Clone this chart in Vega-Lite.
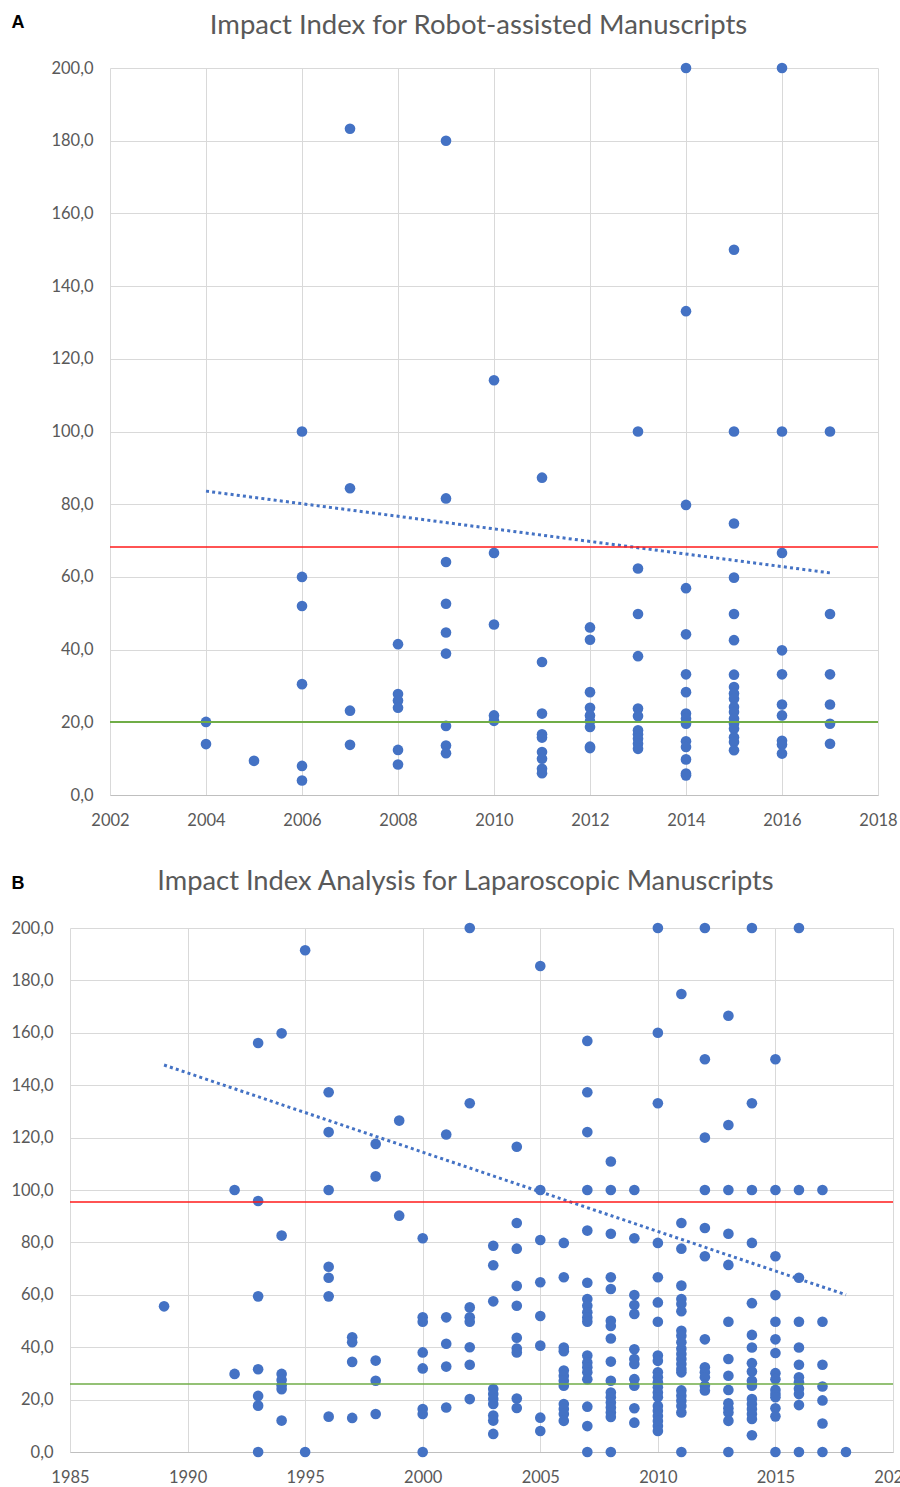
{
  "$schema": "https://vega.github.io/schema/vega-lite/v6.json",
  "background": "white",
  "padding": {"left": 10, "top": 11, "right": 0, "bottom": 0},
  "bounds": "full",
  "spacing": 38,
  "config": {
    "view": {"stroke": null},
    "font": "Lato",
    "axis": {"gridColor": "#d9d9d9", "gridWidth": 1, "ticks": false, "domain": false, "labelColor": "#595959", "labelFont": "Lato", "labelFontSize": 16.5, "titleFont": "Lato"}
  },
  "datasets": {
    "robot": [
      {"year": 2004, "v": 20.1}, {"year": 2004, "v": 14.0},
      {"year": 2005, "v": 9.4},
      {"year": 2006, "v": 100}, {"year": 2006, "v": 60}, {"year": 2006, "v": 52}, {"year": 2006, "v": 30.5}, {"year": 2006, "v": 8}, {"year": 2006, "v": 4},
      {"year": 2007, "v": 183.3}, {"year": 2007, "v": 84.4}, {"year": 2007, "v": 23.2}, {"year": 2007, "v": 13.8},
      {"year": 2008, "v": 41.5}, {"year": 2008, "v": 27.8}, {"year": 2008, "v": 26.0}, {"year": 2008, "v": 24.0}, {"year": 2008, "v": 12.4}, {"year": 2008, "v": 8.4},
      {"year": 2009, "v": 180}, {"year": 2009, "v": 81.6}, {"year": 2009, "v": 64.1}, {"year": 2009, "v": 52.6}, {"year": 2009, "v": 44.7}, {"year": 2009, "v": 38.9}, {"year": 2009, "v": 19.0}, {"year": 2009, "v": 13.6}, {"year": 2009, "v": 11.5},
      {"year": 2010, "v": 114.1}, {"year": 2010, "v": 66.6}, {"year": 2010, "v": 46.9}, {"year": 2010, "v": 21.9}, {"year": 2010, "v": 20.4},
      {"year": 2011, "v": 87.3}, {"year": 2011, "v": 36.6}, {"year": 2011, "v": 22.4}, {"year": 2011, "v": 16.7}, {"year": 2011, "v": 15.8}, {"year": 2011, "v": 11.8}, {"year": 2011, "v": 10.0}, {"year": 2011, "v": 7.2}, {"year": 2011, "v": 6.0},
      {"year": 2012, "v": 46.1}, {"year": 2012, "v": 42.7}, {"year": 2012, "v": 28.3}, {"year": 2012, "v": 24.0}, {"year": 2012, "v": 21.9}, {"year": 2012, "v": 20.3}, {"year": 2012, "v": 18.7}, {"year": 2012, "v": 13.3}, {"year": 2012, "v": 12.9},
      {"year": 2013, "v": 100}, {"year": 2013, "v": 62.3}, {"year": 2013, "v": 49.8}, {"year": 2013, "v": 38.2}, {"year": 2013, "v": 23.8}, {"year": 2013, "v": 21.7}, {"year": 2013, "v": 17.8}, {"year": 2013, "v": 16.7}, {"year": 2013, "v": 15.5}, {"year": 2013, "v": 14.1}, {"year": 2013, "v": 12.7},
      {"year": 2014, "v": 200}, {"year": 2014, "v": 133.1}, {"year": 2014, "v": 79.8}, {"year": 2014, "v": 56.9}, {"year": 2014, "v": 44.2}, {"year": 2014, "v": 33.2}, {"year": 2014, "v": 28.3}, {"year": 2014, "v": 22.4}, {"year": 2014, "v": 21.0}, {"year": 2014, "v": 19.6}, {"year": 2014, "v": 14.8}, {"year": 2014, "v": 13.2}, {"year": 2014, "v": 9.8}, {"year": 2014, "v": 5.9}, {"year": 2014, "v": 5.4},
      {"year": 2015, "v": 150}, {"year": 2015, "v": 100}, {"year": 2015, "v": 74.7}, {"year": 2015, "v": 59.8}, {"year": 2015, "v": 49.8}, {"year": 2015, "v": 42.6}, {"year": 2015, "v": 33.1}, {"year": 2015, "v": 29.7}, {"year": 2015, "v": 27.9}, {"year": 2015, "v": 26.5}, {"year": 2015, "v": 24.2}, {"year": 2015, "v": 22.8}, {"year": 2015, "v": 21.0}, {"year": 2015, "v": 19.6}, {"year": 2015, "v": 18.2}, {"year": 2015, "v": 15.9}, {"year": 2015, "v": 14.6}, {"year": 2015, "v": 12.3},
      {"year": 2016, "v": 200}, {"year": 2016, "v": 100}, {"year": 2016, "v": 66.6}, {"year": 2016, "v": 39.8}, {"year": 2016, "v": 33.2}, {"year": 2016, "v": 24.9}, {"year": 2016, "v": 21.9}, {"year": 2016, "v": 14.9}, {"year": 2016, "v": 13.9}, {"year": 2016, "v": 11.4},
      {"year": 2017, "v": 100}, {"year": 2017, "v": 49.8}, {"year": 2017, "v": 33.2}, {"year": 2017, "v": 24.9}, {"year": 2017, "v": 19.6}, {"year": 2017, "v": 14.1}
    ],
    "robotTrend": [{"year": 2004, "v": 83.6}, {"year": 2017, "v": 61.1}],
    "robotRed": [{"v": 68.2}],
    "robotGreen": [{"v": 20.1}],
    "lap": [
      {"year": 1989, "v": 55.6},
      {"year": 1992, "v": 100}, {"year": 1992, "v": 29.8},
      {"year": 1993, "v": 156.1}, {"year": 1993, "v": 95.8}, {"year": 1993, "v": 59.4}, {"year": 1993, "v": 31.6}, {"year": 1993, "v": 21.4}, {"year": 1993, "v": 17.7}, {"year": 1993, "v": 0},
      {"year": 1994, "v": 159.8}, {"year": 1994, "v": 82.6}, {"year": 1994, "v": 29.8}, {"year": 1994, "v": 27.5}, {"year": 1994, "v": 25.5}, {"year": 1994, "v": 24.0}, {"year": 1994, "v": 12.0},
      {"year": 1995, "v": 191.5}, {"year": 1995, "v": 0},
      {"year": 1996, "v": 137.3}, {"year": 1996, "v": 122.1}, {"year": 1996, "v": 100}, {"year": 1996, "v": 70.7}, {"year": 1996, "v": 66.5}, {"year": 1996, "v": 59.4}, {"year": 1996, "v": 13.5},
      {"year": 1997, "v": 43.8}, {"year": 1997, "v": 41.9}, {"year": 1997, "v": 34.4}, {"year": 1997, "v": 13.0},
      {"year": 1998, "v": 117.6}, {"year": 1998, "v": 105.2}, {"year": 1998, "v": 34.9}, {"year": 1998, "v": 27.2}, {"year": 1998, "v": 14.5},
      {"year": 1999, "v": 126.5}, {"year": 1999, "v": 90.2},
      {"year": 2000, "v": 81.6}, {"year": 2000, "v": 51.4}, {"year": 2000, "v": 49.7}, {"year": 2000, "v": 38.0}, {"year": 2000, "v": 31.9}, {"year": 2000, "v": 16.4}, {"year": 2000, "v": 14.5}, {"year": 2000, "v": 0},
      {"year": 2001, "v": 121.2}, {"year": 2001, "v": 51.4}, {"year": 2001, "v": 41.3}, {"year": 2001, "v": 32.6}, {"year": 2001, "v": 17.0},
      {"year": 2002, "v": 200}, {"year": 2002, "v": 133.1}, {"year": 2002, "v": 55.2}, {"year": 2002, "v": 51.4}, {"year": 2002, "v": 49.7}, {"year": 2002, "v": 40.0}, {"year": 2002, "v": 33.3}, {"year": 2002, "v": 20.2},
      {"year": 2003, "v": 78.7}, {"year": 2003, "v": 71.3}, {"year": 2003, "v": 57.5}, {"year": 2003, "v": 24.0}, {"year": 2003, "v": 22.1}, {"year": 2003, "v": 20.2}, {"year": 2003, "v": 18.3}, {"year": 2003, "v": 13.9}, {"year": 2003, "v": 12.0}, {"year": 2003, "v": 6.9},
      {"year": 2004, "v": 116.5}, {"year": 2004, "v": 87.4}, {"year": 2004, "v": 77.6}, {"year": 2004, "v": 63.4}, {"year": 2004, "v": 55.8}, {"year": 2004, "v": 43.6}, {"year": 2004, "v": 39.5}, {"year": 2004, "v": 38.0}, {"year": 2004, "v": 20.4}, {"year": 2004, "v": 16.8},
      {"year": 2005, "v": 185.5}, {"year": 2005, "v": 100}, {"year": 2005, "v": 80.9}, {"year": 2005, "v": 64.8}, {"year": 2005, "v": 51.9}, {"year": 2005, "v": 40.6}, {"year": 2005, "v": 13.1}, {"year": 2005, "v": 8.0},
      {"year": 2006, "v": 79.8}, {"year": 2006, "v": 66.7}, {"year": 2006, "v": 39.9}, {"year": 2006, "v": 38.5}, {"year": 2006, "v": 31.1}, {"year": 2006, "v": 29.1}, {"year": 2006, "v": 27.2}, {"year": 2006, "v": 25.3}, {"year": 2006, "v": 18.3}, {"year": 2006, "v": 16.4}, {"year": 2006, "v": 14.5}, {"year": 2006, "v": 11.9},
      {"year": 2007, "v": 156.9}, {"year": 2007, "v": 137.3}, {"year": 2007, "v": 122.1}, {"year": 2007, "v": 100}, {"year": 2007, "v": 84.5}, {"year": 2007, "v": 64.6}, {"year": 2007, "v": 58.4}, {"year": 2007, "v": 55.8}, {"year": 2007, "v": 53.3}, {"year": 2007, "v": 51.3}, {"year": 2007, "v": 49.7}, {"year": 2007, "v": 36.8}, {"year": 2007, "v": 34.2}, {"year": 2007, "v": 32.3}, {"year": 2007, "v": 30.4}, {"year": 2007, "v": 27.8}, {"year": 2007, "v": 17.3}, {"year": 2007, "v": 9.9}, {"year": 2007, "v": 0},
      {"year": 2008, "v": 110.9}, {"year": 2008, "v": 100}, {"year": 2008, "v": 83.3}, {"year": 2008, "v": 66.7}, {"year": 2008, "v": 62.2}, {"year": 2008, "v": 50.1}, {"year": 2008, "v": 48.1}, {"year": 2008, "v": 43.3}, {"year": 2008, "v": 34.5}, {"year": 2008, "v": 27.2}, {"year": 2008, "v": 22.7}, {"year": 2008, "v": 20.9}, {"year": 2008, "v": 18.9}, {"year": 2008, "v": 17.0}, {"year": 2008, "v": 15.1}, {"year": 2008, "v": 13.4}, {"year": 2008, "v": 0},
      {"year": 2009, "v": 100}, {"year": 2009, "v": 81.6}, {"year": 2009, "v": 59.9}, {"year": 2009, "v": 56.1}, {"year": 2009, "v": 52.7}, {"year": 2009, "v": 39.2}, {"year": 2009, "v": 35.5}, {"year": 2009, "v": 33.6}, {"year": 2009, "v": 27.8}, {"year": 2009, "v": 25.3}, {"year": 2009, "v": 16.7}, {"year": 2009, "v": 11.2},
      {"year": 2010, "v": 200}, {"year": 2010, "v": 160}, {"year": 2010, "v": 133.1}, {"year": 2010, "v": 79.8}, {"year": 2010, "v": 66.7}, {"year": 2010, "v": 57.1}, {"year": 2010, "v": 49.7}, {"year": 2010, "v": 36.8}, {"year": 2010, "v": 34.8}, {"year": 2010, "v": 30.4}, {"year": 2010, "v": 28.5}, {"year": 2010, "v": 26.6}, {"year": 2010, "v": 24.7}, {"year": 2010, "v": 22.7}, {"year": 2010, "v": 20.9}, {"year": 2010, "v": 17.6}, {"year": 2010, "v": 15.7}, {"year": 2010, "v": 13.7}, {"year": 2010, "v": 11.8}, {"year": 2010, "v": 9.9}, {"year": 2010, "v": 8.0},
      {"year": 2011, "v": 174.8}, {"year": 2011, "v": 87.4}, {"year": 2011, "v": 77.6}, {"year": 2011, "v": 63.5}, {"year": 2011, "v": 58.4}, {"year": 2011, "v": 56.5}, {"year": 2011, "v": 53.7}, {"year": 2011, "v": 46.3}, {"year": 2011, "v": 44.4}, {"year": 2011, "v": 41.9}, {"year": 2011, "v": 39.4}, {"year": 2011, "v": 37.4}, {"year": 2011, "v": 35.5}, {"year": 2011, "v": 33.6}, {"year": 2011, "v": 31.7}, {"year": 2011, "v": 30.4}, {"year": 2011, "v": 23.5}, {"year": 2011, "v": 21.5}, {"year": 2011, "v": 19.6}, {"year": 2011, "v": 17.6}, {"year": 2011, "v": 15.1}, {"year": 2011, "v": 0},
      {"year": 2012, "v": 200}, {"year": 2012, "v": 149.9}, {"year": 2012, "v": 120.0}, {"year": 2012, "v": 100}, {"year": 2012, "v": 85.5}, {"year": 2012, "v": 74.7}, {"year": 2012, "v": 43.0}, {"year": 2012, "v": 32.3}, {"year": 2012, "v": 30.4}, {"year": 2012, "v": 28.5}, {"year": 2012, "v": 25.3}, {"year": 2012, "v": 23.5},
      {"year": 2013, "v": 166.5}, {"year": 2013, "v": 124.8}, {"year": 2013, "v": 100}, {"year": 2013, "v": 83.3}, {"year": 2013, "v": 71.4}, {"year": 2013, "v": 49.7}, {"year": 2013, "v": 35.5}, {"year": 2013, "v": 29.1}, {"year": 2013, "v": 23.7}, {"year": 2013, "v": 18.6}, {"year": 2013, "v": 16.7}, {"year": 2013, "v": 15.1}, {"year": 2013, "v": 11.9}, {"year": 2013, "v": 0},
      {"year": 2014, "v": 200}, {"year": 2014, "v": 133.1}, {"year": 2014, "v": 100}, {"year": 2014, "v": 79.8}, {"year": 2014, "v": 56.8}, {"year": 2014, "v": 44.7}, {"year": 2014, "v": 39.9}, {"year": 2014, "v": 33.9}, {"year": 2014, "v": 30.7}, {"year": 2014, "v": 27.2}, {"year": 2014, "v": 25.3}, {"year": 2014, "v": 20.2}, {"year": 2014, "v": 18.3}, {"year": 2014, "v": 16.4}, {"year": 2014, "v": 14.5}, {"year": 2014, "v": 12.6}, {"year": 2014, "v": 6.4},
      {"year": 2015, "v": 149.9}, {"year": 2015, "v": 100}, {"year": 2015, "v": 74.7}, {"year": 2015, "v": 59.9}, {"year": 2015, "v": 49.7}, {"year": 2015, "v": 43.0}, {"year": 2015, "v": 37.8}, {"year": 2015, "v": 30.1}, {"year": 2015, "v": 27.8}, {"year": 2015, "v": 23.7}, {"year": 2015, "v": 22.1}, {"year": 2015, "v": 20.9}, {"year": 2015, "v": 16.7}, {"year": 2015, "v": 13.6}, {"year": 2015, "v": 0},
      {"year": 2016, "v": 200}, {"year": 2016, "v": 100}, {"year": 2016, "v": 66.5}, {"year": 2016, "v": 49.7}, {"year": 2016, "v": 39.9}, {"year": 2016, "v": 33.3}, {"year": 2016, "v": 28.5}, {"year": 2016, "v": 26.6}, {"year": 2016, "v": 24.1}, {"year": 2016, "v": 22.1}, {"year": 2016, "v": 17.9}, {"year": 2016, "v": 0},
      {"year": 2017, "v": 100}, {"year": 2017, "v": 49.7}, {"year": 2017, "v": 33.3}, {"year": 2017, "v": 25.0}, {"year": 2017, "v": 19.7}, {"year": 2017, "v": 10.9}, {"year": 2017, "v": 0},
      {"year": 2018, "v": 0}
    ],
    "lapTrend": [{"year": 1989, "v": 147.7}, {"year": 2018, "v": 60.0}],
    "lapRed": [{"v": 95.4}],
    "lapGreen": [{"v": 26.0}]
  },
  "vconcat": [
    {
      "width": 768,
      "height": 727,
      "resolve": {"axis": {"x": "independent"}},
      "encoding": {
        "y": {"field": "v", "type": "quantitative", "scale": {"domain": [0, 200], "nice": false},
          "axis": {"values": [0, 20, 40, 60, 80, 100, 120, 140, 160, 180, 200], "labelExpr": "replace(format(datum.value, '.1f'), '.', ',')", "labelPadding": 17,
            "title": "A", "titleAngle": 0, "titleX": -99, "titleY": -55, "titleAlign": "left", "titleBaseline": "top", "titleFont": "Liberation Sans", "titleFontSize": 18, "titleFontWeight": "bold", "titleColor": "#000000"}}
      },
      "layer": [
        {
          "data": {"name": "robot"},
          "mark": {"type": "circle", "size": 113, "color": "#4472c4", "opacity": 1},
          "encoding": {
            "x": {"field": "year", "type": "quantitative", "scale": {"domain": [2002, 2018], "nice": false, "zero": false},
              "axis": {"values": [2002, 2004, 2006, 2008, 2010, 2012, 2014, 2016, 2018], "format": "d", "title": null, "domain": true, "domainColor": "#bfbfbf", "labelPadding": 17, "labelFlush": false}}
          }
        },
        {
          "data": {"name": "robotTrend"},
          "mark": {"type": "line", "color": "#4472c4", "strokeWidth": 3, "strokeDash": [3, 3.2]},
          "encoding": {
            "x": {"field": "year", "type": "quantitative",
              "axis": {"orient": "top", "labels": false, "grid": false, "domain": false, "ticks": false, "title": "Impact Index for Robot-assisted Manuscripts", "titleX": 368, "titleY": -35, "titleAlign": "center", "titleBaseline": "alphabetic", "titleFontSize": 27.5, "titleFontWeight": "normal", "titleColor": "#595959", "titleFont": "Lato"}}
          }
        },
        {
          "data": {"name": "robotRed"},
          "mark": {"type": "rule", "color": "#ff1a1a", "strokeWidth": 1.5},
          "encoding": {}
        },
        {
          "data": {"name": "robotGreen"},
          "mark": {"type": "rule", "color": "#70ad47", "strokeWidth": 2},
          "encoding": {}
        }
      ]
    },
    {
      "width": 783,
      "height": 524,
      "resolve": {"axis": {"x": "independent"}},
      "encoding": {
        "y": {"field": "v", "type": "quantitative", "scale": {"domain": [0, 200], "nice": false},
          "axis": {"values": [0, 20, 40, 60, 80, 100, 120, 140, 160, 180, 200], "labelExpr": "replace(format(datum.value, '.1f'), '.', ',')", "labelPadding": 57,
            "title": "B", "titleAngle": 0, "titleX": -99, "titleY": -54, "titleAlign": "left", "titleBaseline": "top", "titleFont": "Liberation Sans", "titleFontSize": 18, "titleFontWeight": "bold", "titleColor": "#000000"}}
      },
      "layer": [
        {
          "data": {"name": "lap"},
          "mark": {"type": "circle", "size": 113, "color": "#4472c4", "opacity": 1},
          "encoding": {
            "x": {"field": "year", "type": "quantitative", "scale": {"domain": [1985, 2020], "range": [-40, 783], "nice": false, "zero": false},
              "axis": {"values": [1985, 1990, 1995, 2000, 2005, 2010, 2015, 2020], "format": "d", "title": null, "domain": true, "domainColor": "#bfbfbf", "labelPadding": 17, "labelFlush": false}}
          }
        },
        {
          "data": {"name": "lapTrend"},
          "mark": {"type": "line", "color": "#4472c4", "strokeWidth": 3, "strokeDash": [3, 3.2]},
          "encoding": {
            "x": {"field": "year", "type": "quantitative",
              "axis": {"orient": "top", "labels": false, "grid": false, "domain": false, "ticks": false, "title": "Impact Index Analysis for Laparoscopic Manuscripts", "titleX": 355, "titleY": -39, "titleAlign": "center", "titleBaseline": "alphabetic", "titleFontSize": 27.3, "titleFontWeight": "normal", "titleColor": "#595959", "titleFont": "Lato"}}
          }
        },
        {
          "data": {"name": "lapRed"},
          "mark": {"type": "rule", "color": "#ff1a1a", "strokeWidth": 1.5},
          "encoding": {"x": {"datum": 1985, "type": "quantitative", "axis": null}, "x2": {"datum": 2020}}
        },
        {
          "data": {"name": "lapGreen"},
          "mark": {"type": "rule", "color": "#70ad47", "strokeWidth": 1.5},
          "encoding": {"x": {"datum": 1985, "type": "quantitative", "axis": null}, "x2": {"datum": 2020}}
        }
      ]
    }
  ]
}
